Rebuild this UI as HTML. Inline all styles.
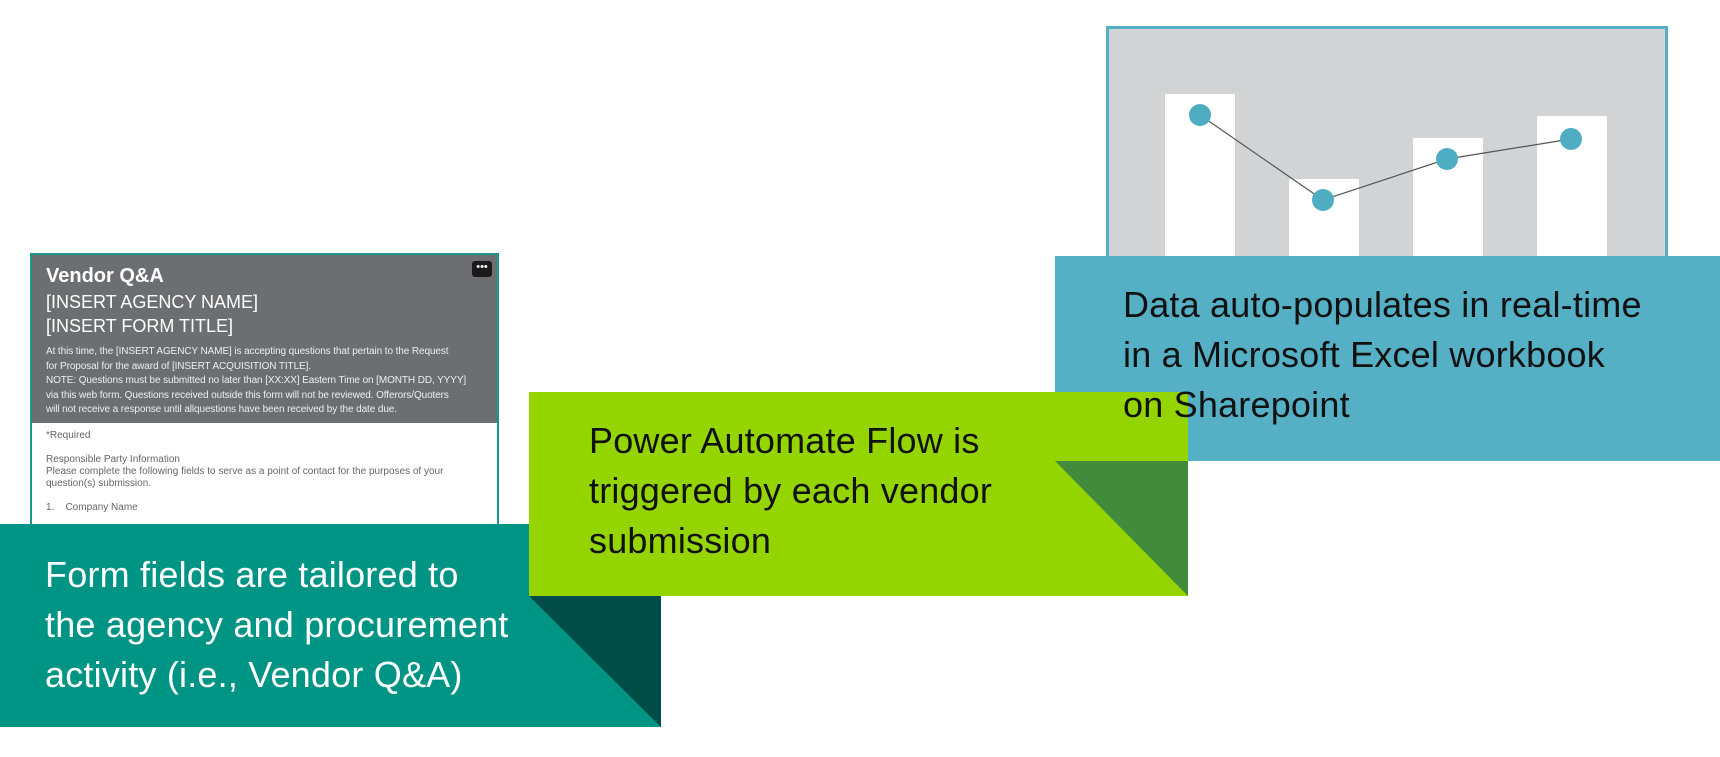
<!DOCTYPE html>
<html><head><style>
body{margin:0;width:1720px;height:757px;background:#fff;position:relative;overflow:hidden;font-family:"Liberation Sans",sans-serif}
.a{position:absolute}
.big{font-size:36px;line-height:50px;letter-spacing:0.2px}
</style></head><body>
<!-- form card -->
<div class="a" style="left:30px;top:253px;width:465px;height:271px;border:2px solid #17978a;background:#fff"></div>
<div class="a" style="left:32px;top:255px;width:465px;height:168px;background:#6d6e71"></div>
<div class="a" style="left:472px;top:261px;width:20px;height:16px;background:#1a1a1a;border-radius:3px;color:#fff;font-size:11px;line-height:12px;text-align:center">•••</div>
<div class="a" style="left:46px;top:265px;color:#fff;font-size:20px;font-weight:bold">Vendor Q&amp;A</div>
<div class="a" style="left:46px;top:290px;color:#fff;font-size:18px;line-height:24px">[INSERT AGENCY NAME]<br>[INSERT FORM TITLE]</div>
<div class="a" style="left:46px;top:345px;white-space:nowrap;color:#eee;font-size:10px;line-height:14.6px;letter-spacing:-0.1px">At this time, the [INSERT AGENCY NAME] is accepting questions that pertain to the Request<br>for Proposal for the award of [INSERT ACQUISITION TITLE].<br>NOTE: Questions must be submitted no later than [XX:XX] Eastern Time on [MONTH DD, YYYY]<br>via this web form. Questions received outside this form will not be reviewed. Offerors/Quoters<br>will not receive a response until allquestions have been received by the date due.</div>
<div class="a" style="left:46px;top:430px;width:440px;color:#666;font-size:10px;line-height:12px">*Required<br><br>Responsible Party Information<br>Please complete the following fields to serve as a point of contact for the purposes of your question(s) submission.<br><br>1.&nbsp;&nbsp;&nbsp;&nbsp;Company Name</div>
<!-- chart card -->
<div class="a" style="left:1106px;top:26px;width:556px;height:230px;border:3px solid #55b0c6;background:#d1d3d4"></div>
<div class="a" style="left:1165px;top:94px;width:70px;height:165px;background:#fff"></div>
<div class="a" style="left:1289px;top:179px;width:70px;height:80px;background:#fff"></div>
<div class="a" style="left:1413px;top:138px;width:70px;height:120px;background:#fff"></div>
<div class="a" style="left:1537px;top:116px;width:70px;height:142px;background:#fff"></div>
<svg class="a" style="left:0;top:0" width="1720" height="757">
<polyline points="1200,115 1323,200 1447,159 1571,139" fill="none" stroke="#555" stroke-width="1.2"/>
<g fill="#4fadc3"><circle cx="1200" cy="115" r="11"/><circle cx="1323" cy="200" r="11"/><circle cx="1447" cy="159" r="11"/><circle cx="1571" cy="139" r="11"/></g>
</svg>
<!-- blue -->
<div class="a" style="left:1055px;top:256px;width:665px;height:205px;background:#55b0c6"></div>
<!-- green -->
<div class="a" style="left:529px;top:392px;width:659px;height:204px;background:#94d500"></div>
<svg class="a" style="left:0;top:0" width="1720" height="757">
<polygon points="1055,461 1188,461 1188,596" fill="#428a3c"/>
</svg>
<!-- teal -->
<div class="a" style="left:0;top:524px;width:529px;height:203px;background:#009484"></div>
<svg class="a" style="left:0;top:0" width="1720" height="757">
<polygon points="529,596 661,596 661,727 529,727" fill="#009484"/>
<polygon points="529,596 661,596 661,727" fill="#004d47"/>
</svg>
<div class="a big" style="left:45px;top:550px;color:#fff">Form fields are tailored to<br>the agency and procurement<br>activity (i.e., Vendor Q&amp;A)</div>
<div class="a big" style="left:589px;top:416px;color:#111">Power Automate Flow is<br>triggered by each vendor<br>submission</div>
<div class="a big" style="left:1123px;top:280px;color:#111">Data auto-populates in real-time<br>in a Microsoft Excel workbook<br>on Sharepoint</div>
</body></html>
